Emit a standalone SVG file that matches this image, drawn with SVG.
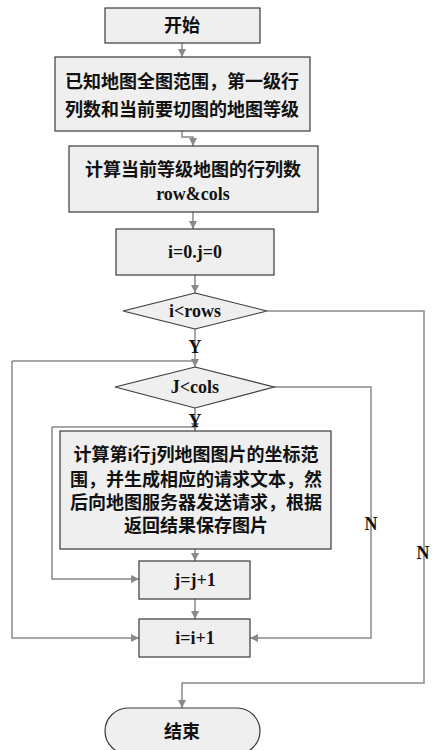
<svg xmlns="http://www.w3.org/2000/svg" width="435" height="750" viewBox="0 0 435 750">
<style>
.box{fill:#efefef;stroke:#3a3a3a;stroke-width:1.2}
.t{font-family:"Liberation Serif","Noto Sans CJK SC",serif;font-weight:bold;font-size:18px;fill:#111;text-anchor:middle}
.c{fill:none;stroke:#8a8a8a;stroke-width:1.5}
</style>
<defs>
<marker id="a" viewBox="0 0 10 10" refX="10" refY="5" markerWidth="8" markerHeight="8" markerUnits="userSpaceOnUse" orient="auto">
<path d="M0,0 L10,5 L0,10 z" fill="#8a8a8a"/>
</marker>
</defs>
<rect width="435" height="750" fill="#fff"/>
<g id="connectors">
<path class="c" d="M182,43 V57" marker-end="url(#a)"/>
<path class="c" d="M182,131 V137 H193 V146" marker-end="url(#a)"/>
<path class="c" d="M193,212 V229" marker-end="url(#a)"/>
<path class="c" d="M195,275 V293" marker-end="url(#a)"/>
<path class="c" d="M195,329 V367" marker-end="url(#a)"/>
<path class="c" d="M12,361 H195"/>
<path class="c" d="M12,361 V638 H139" marker-end="url(#a)"/>
<path class="c" d="M267,311 H424 V683 H182 V708" marker-end="url(#a)"/>
<path class="c" d="M274,387 H371 V638 H250" marker-end="url(#a)"/>
<path class="c" d="M195,408 V431" marker-end="url(#a)"/>
<path class="c" d="M52,427 H195"/>
<path class="c" d="M52,427 V579 H139" marker-end="url(#a)"/>
<path class="c" d="M195,549 V561" marker-end="url(#a)"/>
<path class="c" d="M195,599 V619" marker-end="url(#a)"/>
<text class="t" x="195" y="353">Y</text>
<text class="t" x="195" y="427">Y</text>
<text class="t" x="371" y="530">N</text>
<text class="t" x="423" y="559">N</text>
</g>
<g id="start">
<rect class="box" x="105" y="8" width="155" height="35"/>
<text class="t" x="182" y="32">开始</text>
</g>
<g id="known">
<rect class="box" x="55" y="57" width="255" height="74"/>
<text class="t" x="182" y="88">已知地图全图范围，第一级行</text>
<text class="t" x="182" y="116">列数和当前要切图的地图等级</text>
</g>
<g id="calc-rc">
<rect class="box" x="69" y="146" width="249" height="66"/>
<text class="t" x="193" y="176">计算当前等级地图的行列数</text>
<text class="t" x="193" y="200">row&amp;cols</text>
</g>
<g id="init">
<rect class="box" x="116" y="229" width="158" height="46"/>
<text class="t" x="195" y="258">i=0.j=0</text>
</g>
<g id="cond-i">
<polygon class="box" points="195,293 267,311 195,329 123,311"/>
<text class="t" x="195" y="317">i&lt;rows</text>
</g>
<g id="cond-j">
<polygon class="box" points="195,367 274,387 195,408 115,387"/>
<text class="t" x="195" y="393">J&lt;cols</text>
</g>
<g id="process">
<rect class="box" x="60" y="431" width="271" height="118"/>
<text class="t" x="196" y="461">计算第i行j列地图图片的坐标范</text>
<text class="t" x="196" y="486">围，并生成相应的请求文本，然</text>
<text class="t" x="196" y="509">后向地图服务器发送请求，根据</text>
<text class="t" x="196" y="532">返回结果保存图片</text>
</g>
<g id="jinc">
<rect class="box" x="139" y="561" width="111" height="38"/>
<text class="t" x="195" y="586">j=j+1</text>
</g>
<g id="iinc">
<rect class="box" x="139" y="619" width="111" height="38"/>
<text class="t" x="195" y="644">i=i+1</text>
</g>
<g id="end">
<rect class="box" x="105" y="708" width="155" height="46" rx="23"/>
<text class="t" x="182" y="738">结束</text>
</g>
</svg>
